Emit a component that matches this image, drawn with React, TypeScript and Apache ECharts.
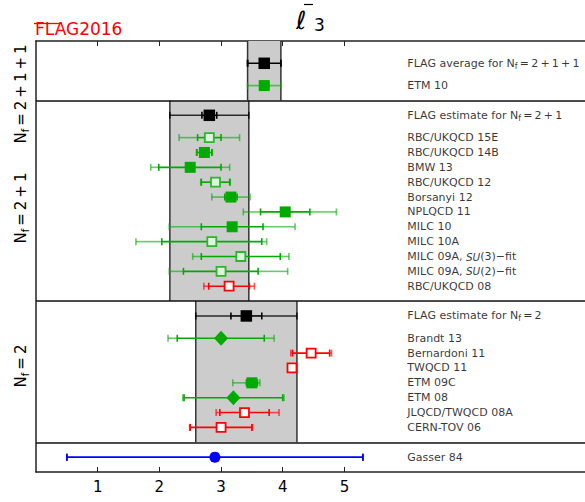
import React, { useEffect, useRef } from "react";
import * as echarts from "echarts";

// ---------------- data ----------------
const rowLabels = [
  "FLAG average for N{s|f}\u2009=\u20092\u2009+\u20091\u2009+\u20091",
  "ETM 10",
  "FLAG estimate for N{s|f}\u2009=\u20092\u2009+\u20091",
  "RBC/UKQCD 15E",
  "RBC/UKQCD 14B",
  "BMW 13",
  "RBC/UKQCD 12",
  "Borsanyi 12",
  "NPLQCD 11",
  "MILC 10",
  "MILC 10A",
  "MILC 09A, {i|SU}(3)\u2212fit",
  "MILC 09A, {i|SU}(2)\u2212fit",
  "RBC/UKQCD 08",
  "FLAG estimate for N{s|f}\u2009=\u20092",
  "Brandt 13",
  "Bernardoni 11",
  "TWQCD 11",
  "ETM 09C",
  "ETM 08",
  "JLQCD/TWQCD 08A",
  "CERN-TOV 06",
  "Gasser 84",
];
const rowPos = [1.5, 3, 5, 6.5, 7.5, 8.5, 9.5, 10.5, 11.5, 12.5, 13.5, 14.5, 15.5, 16.5, 18.5, 20, 21, 22, 23, 24, 25, 26, 28];
const centers = [3.70, 3.70, 2.81, 2.81, 2.73, 2.50, 2.91, 3.16, 4.04, 3.18, 2.85, 3.32, 3.00, 3.13, 3.41, 3.00, 4.46, 4.15, 3.50, 3.20, 3.38, 3.00, 2.90];
const innerLo = [3.43, 3.63, 2.69, 2.62, 2.61, 1.99, 2.68, 3.06, 3.64, 2.68, 2.04, 2.68, 2.39, 2.80, 3.16, 2.29, 4.16, 4.11, 3.41, 2.40, 2.98, 2.50, 0.50];
const innerHi = [3.97, 3.77, 2.93, 3.00, 2.85, 3.00, 3.14, 3.26, 4.44, 3.68, 3.66, 3.96, 3.60, 3.46, 3.66, 3.70, 4.76, 4.19, 3.59, 4.00, 3.78, 3.50, 5.30];
const outerLo = [3.43, 3.43, 2.17, 2.32, 2.60, 1.86, 2.67, 2.85, 3.36, 2.16, 1.62, 2.54, 2.16, 2.72, 2.59, 2.14, 4.13, 4.10, 3.19, 2.38, 2.92, 2.49, 0.50];
const outerHi = [3.97, 3.97, 3.45, 3.30, 2.86, 3.14, 3.15, 3.47, 4.87, 4.20, 3.74, 4.10, 4.08, 3.54, 4.23, 3.86, 4.79, 4.20, 3.63, 4.02, 3.94, 3.51, 5.30];
const rowKind = [
  "black", "gFill", "black", "gOpen", "gFill", "gFill", "gOpen", "gFill", "gFill", "gFill", "gOpen", "gOpen", "gOpen", "rOpen",
  "black", "gDiamond", "rOpen", "rOpen", "gFill", "gDiamond", "rOpen", "rOpen", "blue",
];

const bandLo = [3.43, 2.17, 2.59];
const bandHi = [3.97, 3.45, 4.23];
const bandTop = [0, 4, 17.5];
const bandBottom = [4, 17.5, 27];
const dividers = [4, 17.5, 27];
const groupLabels = [
  "N{s|f}\u2009=\u20092\u2009+\u20091\u2009+\u20091",
  "N{s|f}\u2009=\u20092\u2009+\u20091",
  "N{s|f}\u2009=\u20092",
];
const xTicks = [1, 2, 3, 4, 5];
const labelX = 6.02;

// ---------------- styles ----------------
const KIND: Record<string, any> = {
  black: { symbol: "rect", size: 11.5, fill: "#000000", stroke: "#000000", bw: 0, bar: "#000000", outer: "rgba(0,0,0,0.8)" },
  gFill: { symbol: "rect", size: 11, fill: "#00aa00", stroke: "#00aa00", bw: 0, bar: "#00aa00", outer: "rgba(0,170,0,0.6)" },
  gOpen: { symbol: "rect", size: 9, fill: "#dcf5dc", stroke: "#2db52d", bw: 1.8, bar: "#00aa00", outer: "rgba(0,170,0,0.6)" },
  rOpen: { symbol: "rect", size: 9, fill: "#ffffff", stroke: "#ff0000", bw: 1.8, bar: "#ff0000", outer: "rgba(255,0,0,0.65)" },
  gDiamond: { symbol: "diamond", size: [14, 15], fill: "#00aa00", stroke: "#00aa00", bw: 0, bar: "#00aa00", outer: "rgba(0,170,0,0.6)" },
  blue: { symbol: "circle", size: 11, fill: "#0000ff", stroke: "#0000ff", bw: 0, bar: "#0000ff", outer: "#0000ff" },
};

const FONT = "DejaVu Sans";

export default function App() {
  const ref = useRef<HTMLDivElement>(null);

  useEffect(() => {
    if (!ref.current) return;
    const chart = echarts.init(ref.current, undefined, { renderer: "svg" });

    const bandData = bandLo.map((lo, i) => [lo, bandHi[i], bandTop[i], bandBottom[i]]);
    const errData = rowPos.map((y, i) => [centers[i], y, innerLo[i], innerHi[i], outerLo[i], outerHi[i], i]);
    const markerData = rowPos.map((y, i) => {
      const k = KIND[rowKind[i]];
      return {
        value: [centers[i], y],
        symbol: k.symbol,
        symbolSize: k.size,
        itemStyle: { color: k.fill, borderColor: k.stroke, borderWidth: k.bw, opacity: 1 },
      };
    });
    const labelData = rowPos.map((y, i) => [labelX, y, i]);

    const capH = 3.5;

    const option: any = {
      animation: false,
      backgroundColor: "#ffffff",
      grid: { left: 36, top: 41, right: 0, bottom: 30, containLabel: false },
      xAxis: [
        {
          type: "value",
          min: 0,
          max: 8.9,
          position: "bottom",
          axisLine: { show: true, onZero: false, lineStyle: { color: "#222", width: 1.5 } },
          axisTick: { show: true, inside: true, length: 5, customValues: xTicks, lineStyle: { color: "#222", width: 1 } },
          axisLabel: { show: true, customValues: xTicks, fontSize: 15, color: "#000", fontFamily: FONT, margin: 7 },
          splitLine: { show: false },
        },
        {
          type: "value",
          min: 0,
          max: 8.9,
          position: "top",
          axisLine: { show: true, onZero: false, lineStyle: { color: "#222", width: 1.5 } },
          axisTick: { show: true, inside: true, length: 5, customValues: xTicks, lineStyle: { color: "#222", width: 1 } },
          axisLabel: { show: false },
          splitLine: { show: false },
        },
      ],
      yAxis: {
        type: "value",
        min: 0,
        max: 29,
        inverse: true,
        axisLine: { show: true, onZero: false, lineStyle: { color: "#222", width: 1.5 } },
        axisTick: { show: false },
        axisLabel: { show: false },
        splitLine: { show: false },
      },
      series: [
        {
          type: "custom",
          name: "bands",
          z: 1,
          data: bandData,
          renderItem: (params: any, api: any) => {
            const p1 = api.coord([api.value(0), api.value(2)]);
            const p2 = api.coord([api.value(1), api.value(3)]);
            return {
              type: "group",
              children: [
                { type: "rect", shape: { x: p1[0], y: p1[1], width: p2[0] - p1[0], height: p2[1] - p1[1] }, style: { fill: "#cccccc" } },
                { type: "line", shape: { x1: p1[0], y1: p1[1], x2: p1[0], y2: p2[1] }, style: { stroke: "#333333", lineWidth: 1.5 } },
                { type: "line", shape: { x1: p2[0], y1: p1[1], x2: p2[0], y2: p2[1] }, style: { stroke: "#333333", lineWidth: 1.5 } },
              ],
            };
          },
          markLine: {
            silent: true,
            symbol: ["none", "none"],
            label: { show: false },
            lineStyle: { color: "#111111", width: 1.5, type: "solid" },
            data: dividers.map((d) => ({ yAxis: d })),
          },
        },
        {
          type: "custom",
          name: "errors",
          z: 3,
          data: errData,
          renderItem: (params: any, api: any) => {
            const y = api.value(1);
            const k = KIND[rowKind[api.value(6)]];
            const iL = api.coord([api.value(2), y]);
            const iH = api.coord([api.value(3), y]);
            const oL = api.coord([api.value(4), y]);
            const oH = api.coord([api.value(5), y]);
            const py = iL[1];
            const seg = (x1: number, x2: number, color: string) => ({
              type: "line",
              shape: { x1, y1: py, x2, y2: py },
              style: { stroke: color, lineWidth: 1.6 },
            });
            const cap = (x: number, color: string) => ({
              type: "line",
              shape: { x1: x, y1: py - capH, x2: x, y2: py + capH },
              style: { stroke: color, lineWidth: 1.6 },
            });
            return {
              type: "group",
              children: [
                seg(oL[0], iL[0], k.outer),
                seg(iH[0], oH[0], k.outer),
                seg(iL[0], iH[0], k.bar),
                cap(oL[0], k.outer),
                cap(oH[0], k.outer),
                cap(iL[0], k.bar),
                cap(iH[0], k.bar),
              ],
            };
          },
        },
        {
          type: "scatter",
          name: "markers",
          z: 4,
          data: markerData,
        },
        {
          type: "scatter",
          name: "labels",
          z: 5,
          symbolSize: 0,
          data: labelData,
          label: {
            show: true,
            position: "right",
            distance: 0,
            color: "#000",
            fontFamily: FONT,
            fontSize: 11,
            lineHeight: 14,
            formatter: (p: any) => rowLabels[p.value[2]],
            rich: {
              s: { fontSize: 8, fontFamily: FONT, color: "#000", lineHeight: 8, verticalAlign: "bottom" },
              i: { fontSize: 10.5, fontFamily: FONT, fontStyle: "italic", color: "#000" },
            },
          },
        },
      ],
      graphic: [
        {
          type: "text",
          x: 35,
          y: 37,
          style: { text: "FLAG2016", fill: "#ff0000", fontSize: 17, fontFamily: FONT, textVerticalAlign: "bottom" },
        },
        { type: "line", shape: { x1: 34, y1: 23.5, x2: 62, y2: 23.5 }, style: { stroke: "#ff0000", lineWidth: 1.3 } },
        {
          type: "text",
          x: 296,
          y: 33,
          style: { text: "\u2113", fill: "#000", fontSize: 25, fontStyle: "italic", fontFamily: FONT, textVerticalAlign: "bottom" },
        },
        {
          type: "text",
          x: 314,
          y: 33,
          style: { text: "3", fill: "#000", fontSize: 17, fontFamily: FONT, textVerticalAlign: "bottom" },
        },
        { type: "line", shape: { x1: 304, y1: 4.5, x2: 313, y2: 4.5 }, style: { stroke: "#000", lineWidth: 1.2 } },
        ...groupLabels.map((t, i) => ({
          type: "text",
          x: 21,
          y: [94, 208, 366][i],
          rotation: Math.PI / 2,
          style: {
            text: t,
            fill: "#000",
            fontSize: 15,
            fontFamily: FONT,
            align: "center",
            verticalAlign: "middle",
            lineHeight: 18,
            rich: {
              s: { fontSize: 10, fontFamily: FONT, fill: "#000", lineHeight: 11, verticalAlign: "bottom" },
            },
          },
        })),
      ],
    };

    chart.setOption(option);
    return () => chart.dispose();
  }, []);

  return (
    <div
      ref={ref}
      style={{ position: "fixed", left: 0, top: 0, width: 585, height: 502, background: "#fff" }}
    />
  );
}
